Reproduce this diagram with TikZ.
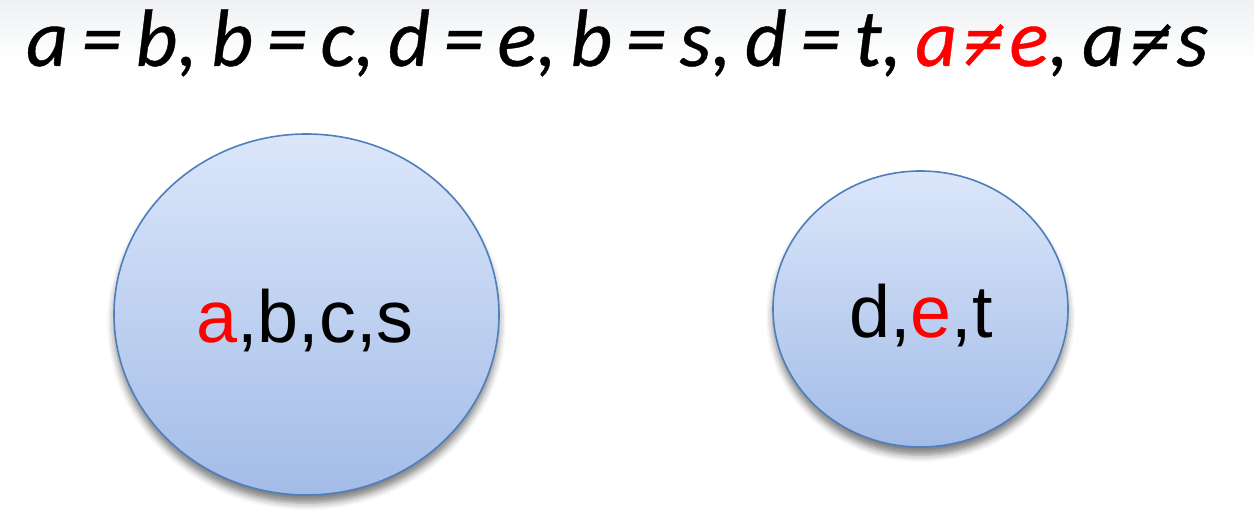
\documentclass[tikz,border=0pt]{standalone}
\usepackage{fontspec}
\setmainfont{Liberation Sans}
\newfontfamily\calfont[ItalicFeatures={FakeBold=0.5}]{Carlito}
\usetikzlibrary{shapes.geometric,shadows.blur}
\definecolor{setborder}{RGB}{79,127,187}
\definecolor{settop}{RGB}{219,230,250}
\definecolor{setbottom}{RGB}{163,188,231}
\definecolor{hdrgray}{RGB}{238,240,243}
\definecolor{alertred}{RGB}{255,0,0}
\newcommand\neqsym{\mbox{\rlap{\kern0.1em\raisebox{0.0em}{\rotatebox{48}{\rule{0.64em}{0.06em}}}}\makebox[0.64em]{=}}}
\tikzset{
  setellipse/.style={ellipse, draw=setborder, line width=1.6bp, inner sep=0pt,
    top color=settop, bottom color=setbottom,
    blur shadow={shadow xshift=0bp, shadow yshift=-8bp, shadow blur radius=7bp, shadow opacity=50}},
  settext/.style={anchor=base, inner sep=0pt, font=\fontsize{74}{80}\selectfont},
  eqtext/.style={anchor=base west, inner sep=0pt, font=\calfont\itshape\fontsize{82}{90}\selectfont}
}
\begin{document}
\begin{tikzpicture}[x=1bp,y=-1bp]
\useasboundingbox (0,0) rectangle (1254,530);
\shade[top color=hdrgray, bottom color=white] (0,0) rectangle (1254,60);
\node[eqtext] (eq) at (26,66) {\spaceskip=13.3bp a = b, b = c, d = e, b = s, d = t, \textcolor{alertred}{a\neqsym e}, a\neqsym s};
\node[setellipse, minimum width=385bp, minimum height=361bp] (L) at (306.5,314.5) {};
\node[setellipse, minimum width=295bp, minimum height=276bp] (R) at (920.5,309) {};
\node[settext] (Lt) at (305,343) {\textcolor{alertred}{a},b,c,s};
\node[settext] (Rt) at (921,338) {d,\textcolor{alertred}{e},t};
\end{tikzpicture}
\end{document}
